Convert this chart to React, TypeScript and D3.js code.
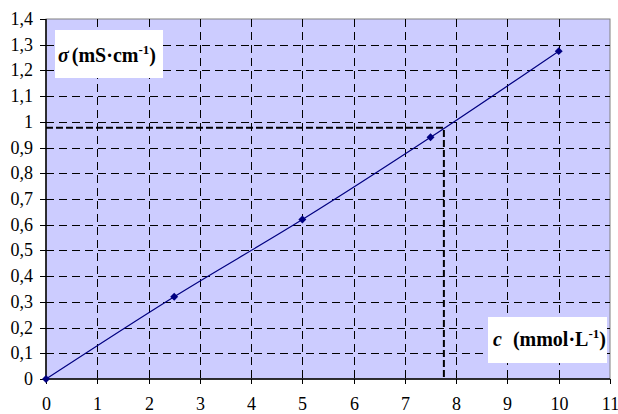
import React from 'react';
import * as d3 from 'd3';

const concentrations = [0, 2.5, 5, 7.5, 10];
const conductivities = [0, 0.32, 0.62, 0.94, 1.275];
const xTicks = [0, 1, 2, 3, 4, 5, 6, 7, 8, 9, 10, 11];
const yTicks = [0, 0.1, 0.2, 0.3, 0.4, 0.5, 0.6, 0.7, 0.8, 0.9, 1, 1.1, 1.2, 1.3, 1.4];
// reading of the unknown sample on the calibration line
const readingC = [7.76];
const readingSigma = [0.977];

const FONT = "Liberation Serif";
const left = 46, right = 610, top = 19, bottom = 379;

const App = () => {
    const x = d3.scaleLinear().domain([0, 11]).range([left, right]);
    const y = d3.scaleLinear().domain([0, 1.4]).range([bottom, top]);
    const pts = concentrations.map((c, i) => [c, conductivities[i]] as [number, number]);
    const curve = d3.line<[number, number]>()
        .x(d => x(d[0])).y(d => y(d[1]))
        .curve(d3.curveCatmullRom.alpha(0.5))(pts) || "";
    const diamond = d3.symbol(d3.symbolDiamond2, 40)() || "";
    const yLabel = (v: number) => d3.format("~g")(v).replace(".", ",");
    const px = (v: number) => Math.round(v) + 0.5;

    return (
        <svg width={618} height={414}
            style={{ position: 'absolute', left: 0, top: 0, background: '#fff' }}>
            {/* plot area */}
            <rect x={left} y={top} width={right - left} height={bottom - top}
                fill="#ccccff" stroke="#808080" />

            {/* grid */}
            {yTicks.slice(1, -1).map(t => (
                <line key={"gy" + t} x1={left} x2={right} y1={px(y(t))} y2={px(y(t))}
                    stroke="#000" strokeDasharray="8,5" />
            ))}
            {xTicks.slice(1, -1).map(t => (
                <line key={"gx" + t} y1={top} y2={bottom} x1={px(x(t))} x2={px(x(t))}
                    stroke="#000" strokeDasharray="8,5" />
            ))}

            {/* y axis */}
            <line x1={left} x2={left} y1={top} y2={bottom} stroke="#000" strokeWidth={1.5} />
            {yTicks.map(t => (
                <g key={"ty" + t} transform={`translate(0,${px(y(t))})`}>
                    <line x1={left - 6} x2={left} stroke="#000" />
                    <text x={left - 13} dy="0.32em" textAnchor="end"
                        fontFamily={FONT} fontSize={18} fill="#000">{yLabel(t)}</text>
                </g>
            ))}

            {/* x axis */}
            <line x1={left} x2={right} y1={bottom} y2={bottom} stroke="#000" strokeWidth={1.5} />
            {xTicks.map(t => (
                <g key={"tx" + t} transform={`translate(${px(x(t))},${bottom})`}>
                    <line y1={0} y2={5} stroke="#000" />
                    <text y={31} textAnchor="middle"
                        fontFamily={FONT} fontSize={18} fill="#000">{t}</text>
                </g>
            ))}

            {/* reading lines */}
            <path d={`M${x(0)},${y(readingSigma[0])}H${x(readingC[0])}V${y(0)}`}
                fill="none" stroke="#000" strokeWidth={2} strokeDasharray="7,3" />

            {/* calibration curve */}
            <path d={curve} fill="none" stroke="#000080" strokeWidth={1.2} />
            {pts.map((d, i) => (
                <path key={"m" + i} d={diamond}
                    transform={`translate(${x(d[0])},${y(d[1])})`} fill="#000080" />
            ))}

            {/* axis name boxes */}
            <rect x={55} y={30} width={108} height={48} fill="#fff" />
            <text x={58} y={62} fontFamily={FONT} fontWeight="bold" fontSize={20} fill="#000">
                <tspan fontStyle="italic">σ</tspan>
                <tspan dx={3}>(mS·cm</tspan>
                <tspan fontSize={13} dy={-8}>-1</tspan>
                <tspan dy={8}>)</tspan>
            </text>

            <rect x={488} y={317} width={119} height={46} fill="#fff" />
            <text x={493} y={346} fontFamily={FONT} fontWeight="bold" fontSize={20} fill="#000">
                <tspan fontStyle="italic">c</tspan>
                <tspan dx={11}>(mmol·L</tspan>
                <tspan fontSize={13} dy={-8}>-1</tspan>
                <tspan dy={8}>)</tspan>
            </text>
        </svg>
    );
};

export default App;
